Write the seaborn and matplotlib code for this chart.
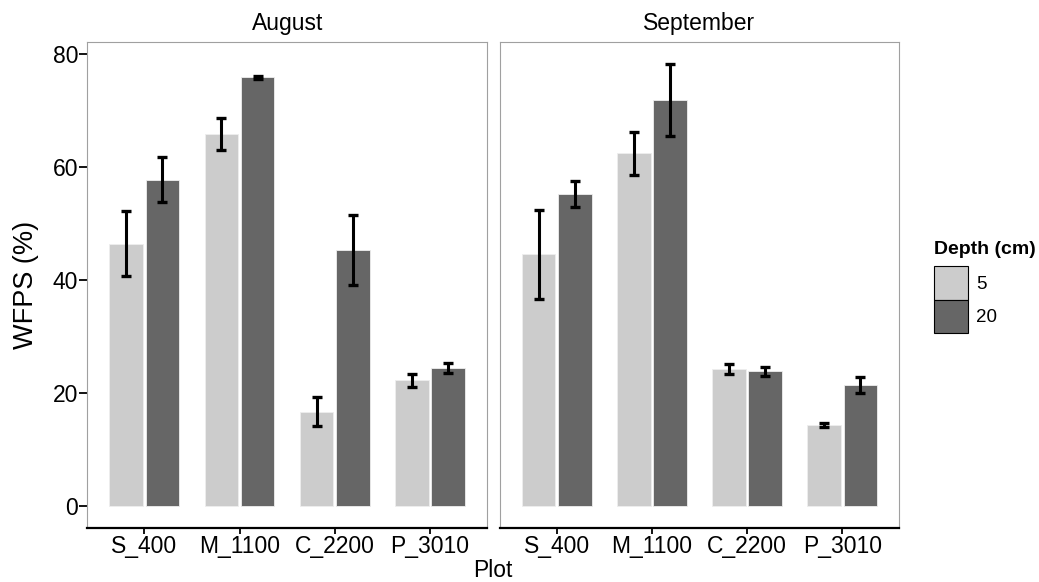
import matplotlib
matplotlib.use("Agg")
import matplotlib.pyplot as plt
from matplotlib.patches import Patch
import pandas as pd
import seaborn as sns

# Data
months = ["August", "September"]
plots = ["S_400", "M_1100", "C_2200", "P_3010"]
depths = ["5", "20"]

# mean WFPS (%) per plot, one list per month / depth
aug_5 = [46.4, 65.8, 16.7, 22.2]
aug_20 = [57.7, 75.8, 45.2, 24.4]
sep_5 = [44.5, 62.4, 24.2, 14.3]
sep_20 = [55.1, 71.8, 23.8, 21.4]

# error bar half widths
aug_5_err = [5.8, 2.8, 2.6, 1.2]
aug_20_err = [4.0, 0.3, 6.2, 0.8]
sep_5_err = [7.9, 3.8, 0.85, 0.3]
sep_20_err = [2.3, 6.4, 0.8, 1.35]

fill_colors = ["#cccccc", "#666666"]

# Long table
parts = [
    ("August", "5", aug_5, aug_5_err),
    ("August", "20", aug_20, aug_20_err),
    ("September", "5", sep_5, sep_5_err),
    ("September", "20", sep_20, sep_20_err),
]
df = pd.concat(
    [pd.DataFrame({"Month": m, "Depth": d, "Plot": plots, "WFPS": v, "err": e})
     for m, d, v, e in parts],
    ignore_index=True,
)

sns.set_theme(style="white")
plt.rcParams["font.family"] = ["Liberation Sans", "DejaVu Sans"]
plt.rcParams["text.color"] = "black"
plt.rcParams["axes.labelcolor"] = "black"
plt.rcParams["xtick.color"] = "black"
plt.rcParams["ytick.color"] = "black"

fig, axes = plt.subplots(1, 2, figsize=(10.39, 5.82), dpi=100, sharey=True)
fig.subplots_adjust(left=0.084, right=0.8656, bottom=0.0928, top=0.9273, wspace=0.0315)

for ax, month in zip(axes, months):
    sub = df[df["Month"] == month]
    sns.barplot(data=sub, x="Plot", y="WFPS", hue="Depth", order=plots,
                hue_order=depths, palette=fill_colors, width=0.76, gap=0.07,
                errorbar=None, edgecolor="#eeeeee", linewidth=0.6,
                legend=False, ax=ax)
    # error bars on top of the dodged bars
    for container, depth in zip(ax.containers, depths):
        d = sub[sub["Depth"] == depth].set_index("Plot").loc[plots]
        xs = [bar.get_x() + bar.get_width() / 2 for bar in container]
        ax.errorbar(xs, d["WFPS"], yerr=d["err"], fmt="none", ecolor="black",
                    elinewidth=2.2, capsize=3.6, capthick=2.4, zorder=5)

    ax.set_xlim(-0.6, 3.6)
    ax.set_ylim(-3.9, 82)
    ax.set_yticks([0, 20, 40, 60, 80])
    ax.set_xlabel("")
    ax.set_ylabel("")
    ax.set_title(month, fontsize=16.5, pad=9, color="black")
    for side in ["top", "left", "right"]:
        ax.spines[side].set_color("#a0a0a0")
        ax.spines[side].set_linewidth(0.8)
    ax.spines["bottom"].set_color("black")
    ax.spines["bottom"].set_linewidth(1.6)
    ax.tick_params(axis="x", bottom=True, length=4, width=1.3, color="black",
                   labelcolor="black", labelsize=16.5, pad=1)
    ax.tick_params(axis="y", left=True, length=5.5, width=1.3, color="black",
                   labelcolor="black", labelsize=16.5, pad=1)

axes[1].tick_params(axis="y", left=False)
axes[0].set_ylabel("WFPS (%)", fontsize=19.5, labelpad=10, color="black")

fig.text(493 / 1039, 5 / 582, "Plot", ha="center", va="baseline", fontsize=16.5,
         color="black")

handles = [Patch(facecolor=c, edgecolor="black", linewidth=0.8) for c in fill_colors]
leg = fig.legend(handles, depths, title="Depth (cm)", loc="upper left",
                 bbox_to_anchor=(934 / 1039, 1 - 241 / 582), frameon=False,
                 fontsize=13.5, title_fontproperties={"weight": "bold", "size": 14},
                 handlelength=1.81, handleheight=2.35, labelspacing=0,
                 handletextpad=0.45, borderpad=0, borderaxespad=0,
                 alignment="left")
leg._legend_box.sep = 6
for t in leg.get_texts():
    t.set_color("black")
leg.get_title().set_color("black")

plt.savefig("out.png", dpi=100, facecolor="white")
